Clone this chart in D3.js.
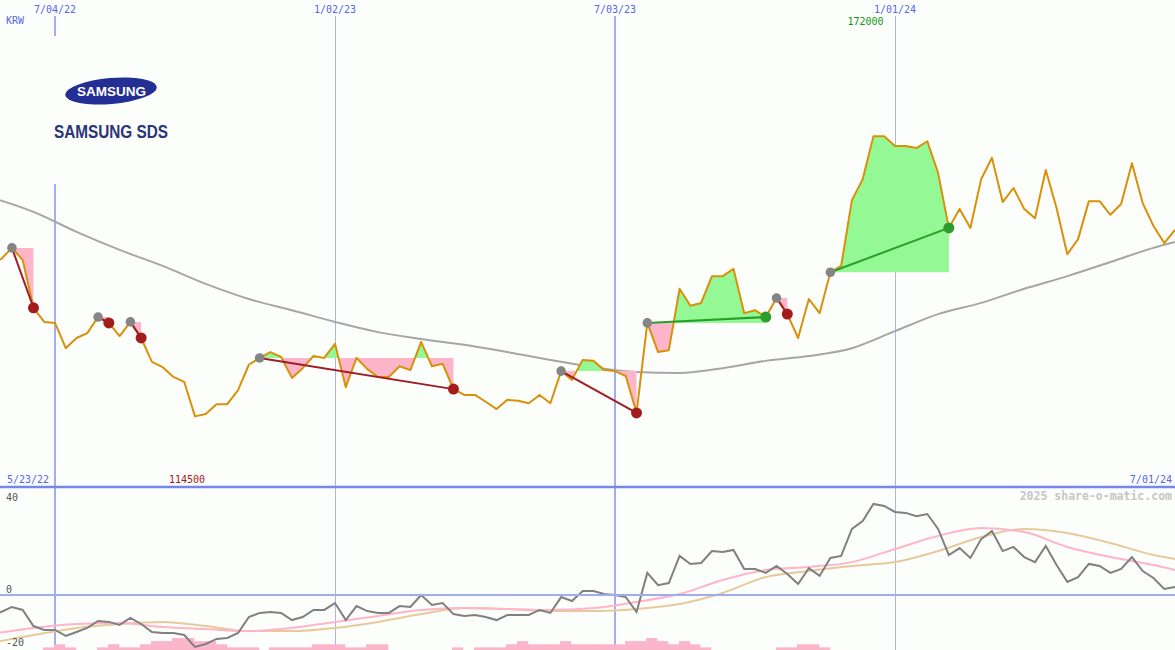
<!DOCTYPE html>
<html><head><meta charset="utf-8">
<script src="https://cdn.jsdelivr.net/npm/d3@7"></script>
<style>
html,body{margin:0;padding:0;background:#fcfefc;}
svg{display:block;}
</style></head><body>
<svg id="c" width="1175" height="650"></svg>
<script>
// ---------- data ----------
const startDate = "2022-05-23";           // first weekly close
const closes = [
 146200,146800,149100,146600,136800,133900,133700,128500,130600,131600,
 134900,133700,131000,133900,130600,125700,124600,122600,121600,114500,
 115000,117000,117000,119900,125100,126500,127700,126700,122400,124400,
 126900,126500,129400,120500,126500,124200,122600,122600,124800,124000,
 129800,124800,125300,120100,118900,118900,117500,116000,117900,117700,
 117200,118900,117200,123800,122000,126100,125900,124000,123800,122800,
 115200,133700,127700,128100,140700,137200,137800,143300,143300,144800,
 135700,136300,134900,138800,135500,130600,138600,135700,144100,145400,
 158900,163200,172000,172000,170000,170000,169600,171000,164500,153200,
 157100,153200,163200,167600,158500,161400,157100,155200,165100,157300,
 147800,150900,158700,158700,155900,158100,166500,158300,153600,150100,
 152800];
const maWeeks = [0,4,8,12,16,20,24,28,32,36,40,44,48,52,56,60,64,68,72,76,80,84,88,92,96,100,104,108,110];
const maValues = [159500,156500,152400,148700,145400,141700,138600,136300,133900,131800,130400,129200,127700,126100,124600,123600,123400,124400,125900,126900,128500,132000,135500,137800,140700,143300,146200,149100,150300];
const oscValues = [
 -8.3,-7.4,-5.2,-6.5,-13.5,-15.2,-15.2,-17.8,-16.1,-14.3,
 -11.3,-11.7,-13.0,-10.0,-12.6,-16.1,-16.5,-16.5,-17.4,-22.6,
 -21.3,-19.1,-18.7,-16.5,-9.6,-7.8,-7.4,-7.8,-10.9,-9.6,
 -6.5,-6.5,-3.5,-10.9,-4.8,-7.0,-7.8,-7.8,-4.8,-5.2,
 0.0,-4.3,-3.5,-8.3,-9.1,-8.7,-9.6,-10.9,-8.7,-8.7,
 -8.7,-6.5,-7.8,-0.9,-2.6,1.7,1.7,0.4,0.0,-0.9,
 -7.4,9.6,4.3,5.2,17.0,13.5,13.9,19.1,18.7,19.6,
 11.3,11.3,9.6,12.6,9.1,4.8,11.7,8.3,16.1,17.0,
 28.7,32.2,39.6,38.7,36.1,35.7,34.3,35.2,28.7,17.4,
 20.4,16.1,24.3,27.8,19.1,20.9,16.5,14.3,21.3,13.0,
 5.7,7.8,13.5,12.6,9.6,11.3,16.5,10.4,7.4,2.6,
 3.5];
const sigPinkValues = [-17.0,-14.3,-12.6,-12.2,-13.9,-14.8,-15.7,-14.3,-11.7,-9.1,-6.5,-5.7,-6.1,-6.5,-5.7,-3.0,0.4,6.5,10.9,12.2,14.3,20.0,25.7,29.1,27.4,20.9,16.5,13.0,10.9];
const sigTanValues  = [-20.9,-17.4,-14.3,-12.6,-11.7,-13.5,-15.7,-15.7,-14.3,-11.7,-8.3,-5.7,-6.1,-7.0,-7.0,-6.1,-3.9,0.9,7.8,10.4,12.6,14.3,19.1,25.2,28.7,27.0,22.6,17.4,15.7];
const barLevels = [
 0,0,0,0,0,1,2,1,0,0,
 1,2,1,1,2,3,3,4,4,3,
 3,2,1,1,1,0,1,1,1,1,
 2,2,2,1,1,2,2,0,0,0,
 0,0,0,1,0,1,1,1,2,3,
 2,2,2,3,2,2,2,2,2,3,
 3,4,3,2,3,2,1,0,0,0,
 0,0,0,1,1,2,2,1,0,0,
 0,0,0,0,0,0,0,0,0,0,
 0,0,0,0,0,0,0,0,0,0,
 0,0,0,0,0,0,0,0,0,0,
 0];
const tradeEntries = [2,10,13,25,53,61,73,78];
const tradeExits   = [4,11,14,43,60,72,74,89];
const gridDates  = ["2022-07-04","2023-01-02","2023-07-03","2024-01-01"];
const gridLabels = ["7/04/22","1/02/23","7/03/23","1/01/24"];
const gridMajor  = [true,false,true,false];
const oscTicks = [40,0,-20];
const currency = "KRW";
const firstLabel = "5/23/22", lastLabel = "7/01/24";
const credit = "2025 share-o-matic.com";
const company = "SAMSUNG SDS", brand = "SAMSUNG";

// ---------- setup ----------
const W = 1175, H = 650, mainBottom = 487;
const BG = "#fcfefc";
const parse = d3.utcParse("%Y-%m-%d");
const t0 = parse(startDate);
const dates = closes.map((_, i) => d3.utcDay.offset(t0, 7 * i));
const x = d3.scaleUtc().domain([parse("2022-07-04"), parse("2024-07-01")]).range([55, 1175]);
const y = d3.scaleLinear().domain([100000, 200000]).range([mainBottom, 0]);
const yo = d3.scaleLinear().domain([0, 40]).range([595, 503]);
const yb = d3.scaleLinear().domain([0, 4]).range([650.5, 638]);
const mono = "'DejaVu Sans Mono', monospace";

const svg = d3.select("#c");
svg.append("rect").attr("width", W).attr("height", H).attr("fill", BG);
const defs = svg.append("defs");
defs.append("clipPath").attr("id", "clipMain").append("rect").attr("x", 0).attr("y", 0).attr("width", W).attr("height", mainBottom);
defs.append("clipPath").attr("id", "clipLow").append("rect").attr("x", 0).attr("y", mainBottom + 1).attr("width", W).attr("height", H - mainBottom);

// grid lines
gridDates.forEach((d, k) => {
  const gx = Math.round(x(parse(d)));
  svg.append("line")
    .attr("x1", gridMajor[k] ? gx : gx + 0.5).attr("x2", gridMajor[k] ? gx : gx + 0.5)
    .attr("y1", 16).attr("y2", H)
    .attr("stroke", gridMajor[k] ? "#a3aef2" : "#aab4f0")
    .attr("stroke-width", gridMajor[k] ? 2 : 1);
  svg.append("text").attr("x", gx).attr("y", 13).attr("text-anchor", "middle")
    .attr("font-family", mono).attr("font-size", 10).attr("fill", "#5566ee").text(gridLabels[k]);
});

// ---------- lower panel ----------
const low = svg.append("g").attr("clip-path", "url(#clipLow)");
low.selectAll("rect.bar").data(barLevels.map((v, i) => ({v, i})).filter(d => d.v > 0))
  .enter().append("rect")
  .attr("x", d => Math.round(x(dates[d.i])) - 1)
  .attr("width", d => x(d3.utcDay.offset(dates[d.i], 7)) - x(dates[d.i]) + 0.5)
  .attr("y", d => yb(d.v)).attr("height", d => yb(0) - yb(d.v))
  .attr("fill", "#fbb6cb");
// zero line
svg.append("line").attr("x1", 0).attr("x2", W).attr("y1", yo(0)).attr("y2", yo(0))
  .attr("stroke", "#a0acf0").attr("stroke-width", 2);
const lineS = d3.line().x(d => x(dates[d[0]])).y(d => yo(d[1])).curve(d3.curveMonotoneX);
low.append("path").datum(maWeeks.map((w, k) => [w, sigTanValues[k]]))
  .attr("d", lineS).attr("fill", "none").attr("stroke", "#e6ca9a").attr("stroke-width", 2);
low.append("path").datum(maWeeks.map((w, k) => [w, sigPinkValues[k]]))
  .attr("d", lineS).attr("fill", "none").attr("stroke", "#ffb4c8").attr("stroke-width", 2);
low.append("path").datum(oscValues.map((v, i) => [i, v]))
  .attr("d", d3.line().x(d => x(dates[d[0]])).y(d => yo(d[1])))
  .attr("fill", "none").attr("stroke", "#808080").attr("stroke-width", 2);
oscTicks.forEach(t => {
  const ty = t === -20 ? 646 : yo(t) - 2;
  svg.append("text").attr("x", 6).attr("y", ty).attr("font-family", mono).attr("font-size", 10)
    .attr("fill", "#555").text(t);
});

// ---------- main panel ----------
const main = svg.append("g").attr("clip-path", "url(#clipMain)");
// moving average
main.append("path").datum(maWeeks.map((w, k) => [w, maValues[k]]))
  .attr("d", d3.line().x(d => x(dates[d[0]])).y(d => y(d[1])).curve(d3.curveMonotoneX))
  .attr("fill", "none").attr("stroke", "#a6a6a6").attr("stroke-width", 2);

// trade shading
tradeEntries.forEach((e, k) => {
  const ex = tradeExits[k];
  const lvl = y(closes[e]);
  const pts = d3.range(e, ex + 1);
  const area = d3.area().x(i => x(dates[i])).y0(lvl).y1(i => y(closes[i]));
  const idU = "cu" + k, idD = "cd" + k;
  defs.append("clipPath").attr("id", idU).append("rect").attr("x", 0).attr("y", 0).attr("width", W).attr("height", lvl);
  defs.append("clipPath").attr("id", idD).append("rect").attr("x", 0).attr("y", lvl).attr("width", W).attr("height", mainBottom - lvl);
  main.append("g").attr("clip-path", `url(#${idU})`).append("path").datum(pts).attr("d", area).attr("fill", "#94f894");
  main.append("g").attr("clip-path", `url(#${idD})`).append("path").datum(pts).attr("d", area).attr("fill", "#fdb6c9");
});

// price line
main.append("path").datum(closes.map((v, i) => [i, v]))
  .attr("d", d3.line().x(d => x(dates[d[0]])).y(d => y(d[1])))
  .attr("fill", "none").attr("stroke", "#d9900a").attr("stroke-width", 2).attr("stroke-linejoin", "round");

// trade lines & dots
tradeEntries.forEach((e, k) => {
  const ex = tradeExits[k];
  const win = closes[ex] > closes[e];
  main.append("line").attr("x1", x(dates[e])).attr("y1", y(closes[e]))
    .attr("x2", x(dates[ex])).attr("y2", y(closes[ex]))
    .attr("stroke", win ? "#2a9e2a" : "#a01c24").attr("stroke-width", 2);
});
tradeEntries.forEach((e, k) => {
  const ex = tradeExits[k];
  const win = closes[ex] > closes[e];
  main.append("circle").attr("cx", x(dates[e])).attr("cy", y(closes[e])).attr("r", 4.8).attr("fill", "#858585");
  main.append("circle").attr("cx", x(dates[ex])).attr("cy", y(closes[ex])).attr("r", 5.5)
    .attr("fill", win ? "#2c9c2c" : "#a31b1b");
});

// separator line
svg.append("line").attr("x1", 0).attr("x2", W).attr("y1", mainBottom).attr("y2", mainBottom)
  .attr("stroke", "#7686ea").attr("stroke-width", 2.5);

// labels
svg.append("text").attr("x", 6).attr("y", 24).attr("font-family", mono).attr("font-size", 10).attr("fill", "#5566ee").text(currency);
svg.append("text").attr("x", 7).attr("y", 483).attr("font-family", mono).attr("font-size", 10).attr("fill", "#5566ee").text(firstLabel);
svg.append("text").attr("x", 1172).attr("y", 483).attr("text-anchor", "end").attr("font-family", mono).attr("font-size", 10).attr("fill", "#5566ee").text(lastLabel);
const iMin = d3.minIndex(closes), iMax = d3.maxIndex(closes);
svg.append("text").attr("x", x(dates[iMin]) - 8).attr("y", 483).attr("text-anchor", "middle")
  .attr("font-family", mono).attr("font-size", 10).attr("fill", "#a01818").text(closes[iMin]);
svg.append("text").attr("x", x(dates[iMax]) - 8).attr("y", 25).attr("text-anchor", "middle")
  .attr("font-family", mono).attr("font-size", 10).attr("fill", "#109a10").text(closes[iMax]);
svg.append("text").attr("x", 1172).attr("y", 500).attr("text-anchor", "end").attr("font-family", mono)
  .attr("font-size", 11.5).attr("font-weight", "bold").attr("fill", "#c6c6c6").text(credit);

// logo
svg.append("rect").attr("x", 38).attr("y", 36).attr("width", 140).attr("height", 148).attr("fill", BG);
svg.append("ellipse").attr("cx", 111).attr("cy", 91).attr("rx", 46).attr("ry", 13)
  .attr("transform", "rotate(-5 111 91)").attr("fill", "#232f94");
svg.append("text").attr("x", 111.5).attr("y", 95.5).attr("text-anchor", "middle")
  .attr("font-family", "'Liberation Sans', Arial, sans-serif").attr("font-weight", "bold").attr("font-size", 12.5)
  .attr("textLength", 69).attr("lengthAdjust", "spacingAndGlyphs").attr("fill", "#ffffff").text(brand);
svg.append("text").attr("x", 54).attr("y", 138)
  .attr("font-family", "'Liberation Sans Narrow', 'Liberation Sans', Arial, sans-serif").attr("font-weight", "bold").attr("font-size", 18)
  .attr("textLength", 114).attr("lengthAdjust", "spacingAndGlyphs").attr("fill", "#2b3578").text(company);
</script>
</body></html>
